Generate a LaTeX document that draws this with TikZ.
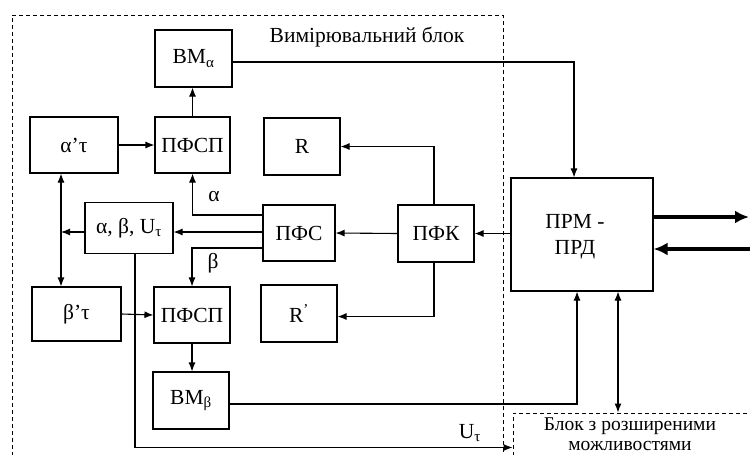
\documentclass[tikz,border=0pt]{standalone}
\usepackage{fontspec}
\setmainfont{Liberation Serif}
\usetikzlibrary{arrows.meta,calc}
\begin{document}
\begin{tikzpicture}[x=1pt,y=-1pt,
  txt/.style={font=\fontsize{21.5}{24}\selectfont},
  box/.style={draw,line width=1.1pt,inner sep=0pt,txt},
  ln/.style={line width=1.1pt},
  arr/.style={ln,-{Latex[length=9pt,width=7pt]}},
  dbl/.style={ln,{Latex[length=9pt,width=7pt]}-{Latex[length=9pt,width=7pt]}},
  fat/.style={line width=4pt,-{Latex[length=14pt,width=13pt]}},
  dsh/.style={draw,line width=1pt,dash pattern=on 4pt off 3pt,inner sep=0pt},
  lbl/.style={txt,inner sep=0pt}]
\useasboundingbox (0,0) rectangle (750,455);
\clip (0,0) rectangle (750,455);
% dashed frames
\node[dsh,minimum width=491pt,minimum height=485pt] (meas) at (257.5,257.5) {};
\node[dsh,minimum width=287pt,minimum height=87pt] (blk) at (656.5,456.5) {};
\node[lbl] (title) at (367,37) {Вимірювальний блок};
\node[lbl,anchor=north,align=center,font=\fontsize{19.5}{19.5}\selectfont] (btx) at (630,418) {Блок з розширеними\\можливостями};
% boxes
\node[box,minimum width=77pt,minimum height=57pt] (BMa) at (193.5,58.5) {BM\textsubscript{α}};
\node[box,minimum width=88pt,minimum height=56pt] (at) at (74,145) {α’τ};
\node[box,minimum width=75pt,minimum height=56pt] (P1) at (192.5,145) {ПФСП};
\node[box,minimum width=76pt,minimum height=57pt] (R) at (302,146.5) {R};
\node[box,minimum width=88pt,minimum height=51pt] (abu) at (129,228) {α, β, U\textsubscript{τ}};
\node[box,minimum width=72pt,minimum height=56pt] (PFS) at (299,233) {ПФС};
\node[box,minimum width=76pt,minimum height=57pt] (PFK) at (436,233.5) {ПФК};
\node[box,minimum width=142pt,minimum height=113pt] (PRM) at (582,234.5) {};
\node[lbl,align=center,font=\fontsize{21.5}{26}\selectfont] (PRMt) at (575,237) {ПРМ -\\ПРД};
\node[box,minimum width=89pt,minimum height=54pt] (bt) at (76.5,314) {β’τ};
\node[box,minimum width=76pt,minimum height=56pt] (P2) at (192,315) {ПФСП};
\node[box,minimum width=76pt,minimum height=57pt] (Rp) at (299,313.5) {R\textsuperscript{’}};
\node[box,minimum width=76pt,minimum height=57pt] (BMb) at (191,400.5) {BM\textsubscript{β}};
% labels
\node[lbl] (la) at (214,197) {α};
\node[lbl] (lb) at (213,263) {β};
\node[lbl] (lu) at (470,433) {U\textsubscript{τ}};
% helper coordinates
\coordinate (s1) at ($(PFS.west)+(0,-18)$);
\coordinate (s2) at ($(PFS.west)+(0,-1)$);
\coordinate (s3) at ($(PFS.west)+(0,15)$);
\coordinate (j) at (61,232);
\coordinate (u0) at ($(abu.south)+(6,0)$);
\coordinate (u1) at ($(blk.north west)+(0,35)$);
\coordinate (m1) at ($(BMa.east)+(0,3.5)$);
\coordinate (m2) at ($(PRM.north)+(-8,0)$);
\coordinate (b1) at ($(BMb.east)+(0,3.5)$);
\coordinate (b2) at ($(PRM.south)+(-5,0)$);
\coordinate (d1) at ($(PRM.south)+(36,0)$);
\coordinate (k1) at ($(PFK.north)+(-2,0)$);
\coordinate (k2) at ($(PFK.south)+(-2,0)$);
\coordinate (r2) at ($(Rp.east)+(0,3)$);
\coordinate (e1) at ($(PRM.east)+(0,-17.5)$);
\coordinate (e2) at ($(PRM.east)+(0,14.5)$);
\coordinate (o1) at (749,217);
\coordinate (i1) at (755,249);
% connectors
\draw[arr] (m1) -| (m2);
\draw[arr] (P1.north) -- (P1.north |- BMa.south);
\draw[arr] (at.east) -- (P1.west);
\draw[arr] (s1) -| (P1.south);
\draw[arr] (s2) -- (s2 -| abu.east);
\draw[arr] (s3) -| (P2.north);
\draw[arr] (abu.west |- j) -- (j);
\draw[dbl] (j |- at.south) -- (j |- bt.north);
\draw[arr] (u0) |- (u1);
\draw[arr] (bt.east) -- (P2.west);
\draw[arr] (P2.south) -- (P2.south |- BMb.north);
\draw[arr] (b1) -| (b2);
\draw[dbl] (d1) -- (d1 |- blk.north);
\draw[arr] (k1) |- (R.east);
\draw[arr] (k2) |- (r2);
\draw[arr] (PFK.west) -- (PFS.east);
\draw[arr] (PRM.west |- PFK.east) -- (PFK.east);
% thick arrows
\draw[fat] (e1) -- (o1);
\draw[fat] (i1) -- (e2);
\end{tikzpicture}
\end{document}
